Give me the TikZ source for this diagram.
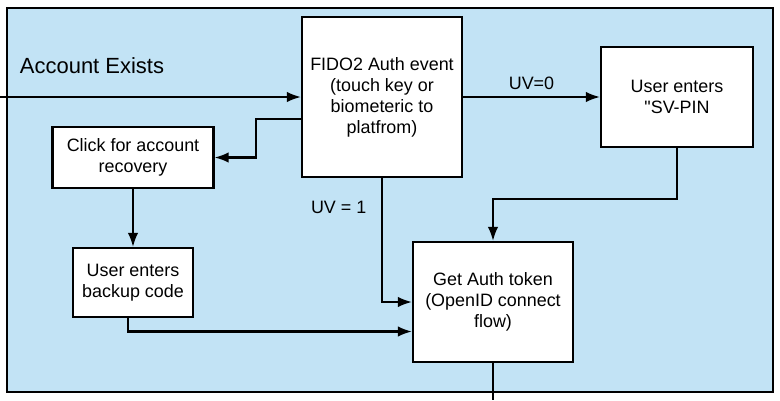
\documentclass[tikz,border=0pt]{standalone}
\usepackage{fontspec}
\setmainfont{Liberation Sans}
\newfontfamily\plainfont{Liberation Sans}
\usetikzlibrary{arrows.meta}
\definecolor{paleblue}{RGB}{194,227,245}
\begin{document}
\begin{tikzpicture}[x=0.02cm, y=-0.02cm, line width=1.2pt,
        box/.style={rectangle, draw, fill=white, align=center, inner sep=0pt, font=\fontsize{10.2}{11.9}\selectfont},
        >={Latex[length=8pt, width=6pt]}]
        \useasboundingbox (0,0) rectangle (780,400);
        \draw[fill=paleblue] (7,8) rectangle (773,392);
        \node[font=\fontsize{12.5}{15}\selectfont] (title) at (92,66) {Account Exists};
        \node[box, minimum width=160*0.02cm, minimum height=160*0.02cm] (fido) at (382,97) {FIDO2 Auth event\\(touch key or\\biometeric to\\platfrom)};
        \node[box, minimum width=152*0.02cm, minimum height=100*0.02cm] (pin) at (677,97) {User enters\\{\plainfont"}SV-PIN};
        \node[box, minimum width=161*0.02cm, minimum height=61*0.02cm] (click) at (133,157.5) {Click for account\\recovery};
        \node[box, minimum width=120*0.02cm, minimum height=69*0.02cm] (backup) at (133,282.5) {User enters\\backup code};
        \node[box, minimum width=160*0.02cm, minimum height=120*0.02cm] (token) at (493,302) {Get Auth token\\(OpenID connect\\flow)};
        \coordinate (in) at (0,97);
        \coordinate (out) at (493,400);
        \draw[->] (in) -- (fido.west);
        \draw[->] (fido.195) -- ++(-45,0) |- (click.east);
        \draw[->] (fido.east) -- node[above, font=\fontsize{10.2}{12}\selectfont] {UV=0} (pin.west);
        \draw[->] (pin.south) -- ++(0,51) -| (token.north);
        \draw[->] (fido.south) |- node[pos=0.12, left=5pt, font=\fontsize{10.2}{12}\selectfont] {UV = 1} (token.west);
        \draw[->] (click.south) -- (backup.north);
        \draw[->] (backup.262) |- (token.200);
        \draw (token.south) -- (out);
    \end{tikzpicture}
\end{document}
